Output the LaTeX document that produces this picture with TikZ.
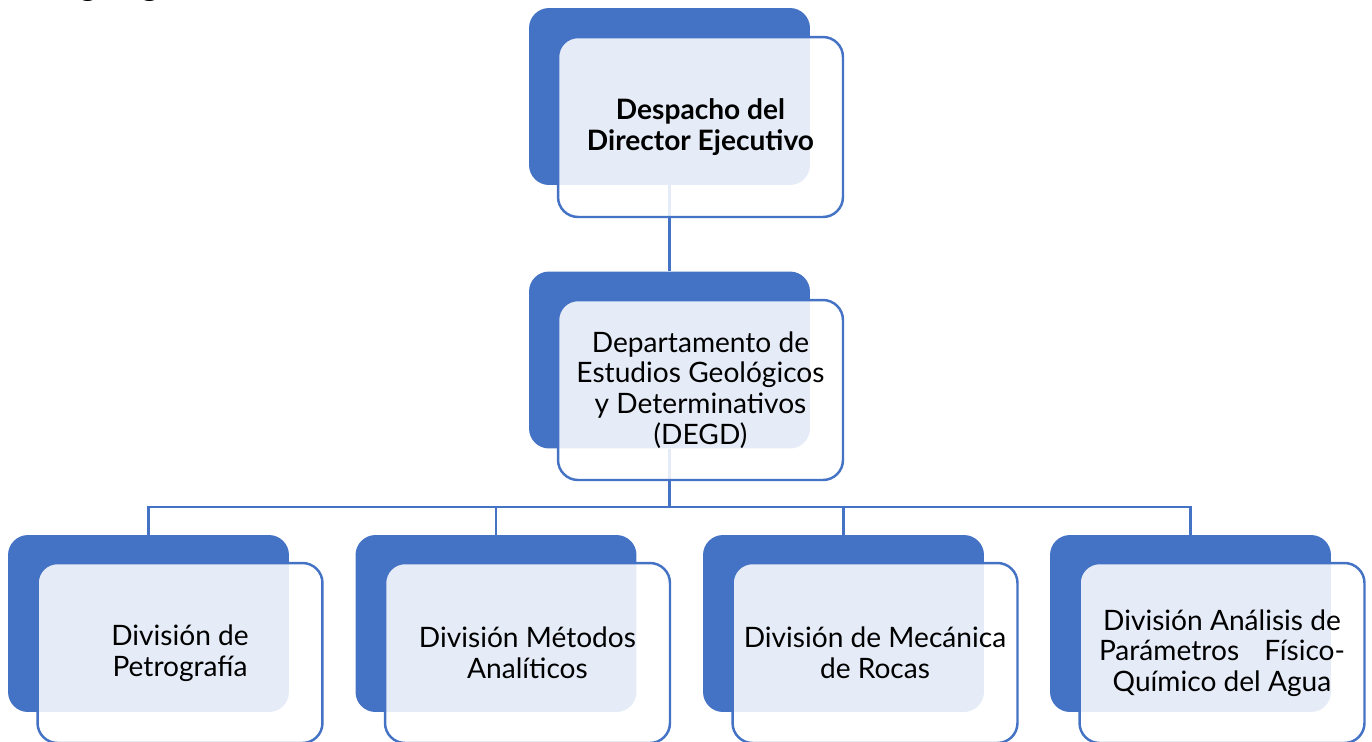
\documentclass[tikz,border=0pt]{standalone}
\usepackage{fontspec}
\setmainfont{Lato}
\definecolor{orgblue}{HTML}{4472C4}

\begin{document}
\begin{tikzpicture}[x=0.02cm,y=-0.02cm,
  back/.style={fill=orgblue,rounded corners=0.4cm,minimum width=5.62cm,minimum height=3.54cm},
  front/.style={draw=orgblue,line width=1.4pt,fill=white,fill opacity=0.87,text opacity=1,
    rounded corners=0.4cm,minimum width=5.7cm,minimum height=3.6cm,align=center,
    font=\fontsize{16}{17.5}\selectfont},
  link/.style={draw=orgblue,line width=1.6pt}]
  \useasboundingbox (0,0) rectangle (1372,741);
  \clip (0,0) rectangle (1372,741);
  \node[anchor=base west,inner sep=0pt,font=\bfseries\fontsize{19}{20}\selectfont] (title) at (40,-5) {Organigrama:};
  \node[back] (top) at (669.5,96.5) {};
  \node[back] (mid) at (669.5,360) {};
  \foreach \i/\x in {1/148.5,2/496,3/843.5,4/1190.5}
    \node[back] (b\i) at (\x,623.5) {};
  \coordinate (bus) at (669.5,507);
  \draw[link] (top.south) -- (mid.north);
  \draw[link] (mid.south) -- (bus);
  \foreach \i in {1,...,4}
    \draw[link] (bus) -| (b\i.north);
  \node[front,font=\bfseries\fontsize{16}{17.5}\selectfont] (ftop) at (700.5,127) {Despacho del\\Director Ejecutivo};
  \node[front] (fmid) at (700.5,390) {Departamento de\\Estudios Geológicos\\y Determinativos\\(DEGD)};
  \node[front] (f1) at (180,653) {División de\\Petrografía};
  \node[front] (f2) at (527.5,653) {División Métodos\\Analíticos};
  \node[front] (f3) at (875,653) {División de Mecánica\\de Rocas};
  \node[front] (f4) at (1222,653) {División Análisis de\\Parámetros\hspace{0.9em}Físico-\\Químico del Agua};
\end{tikzpicture}
\end{document}
